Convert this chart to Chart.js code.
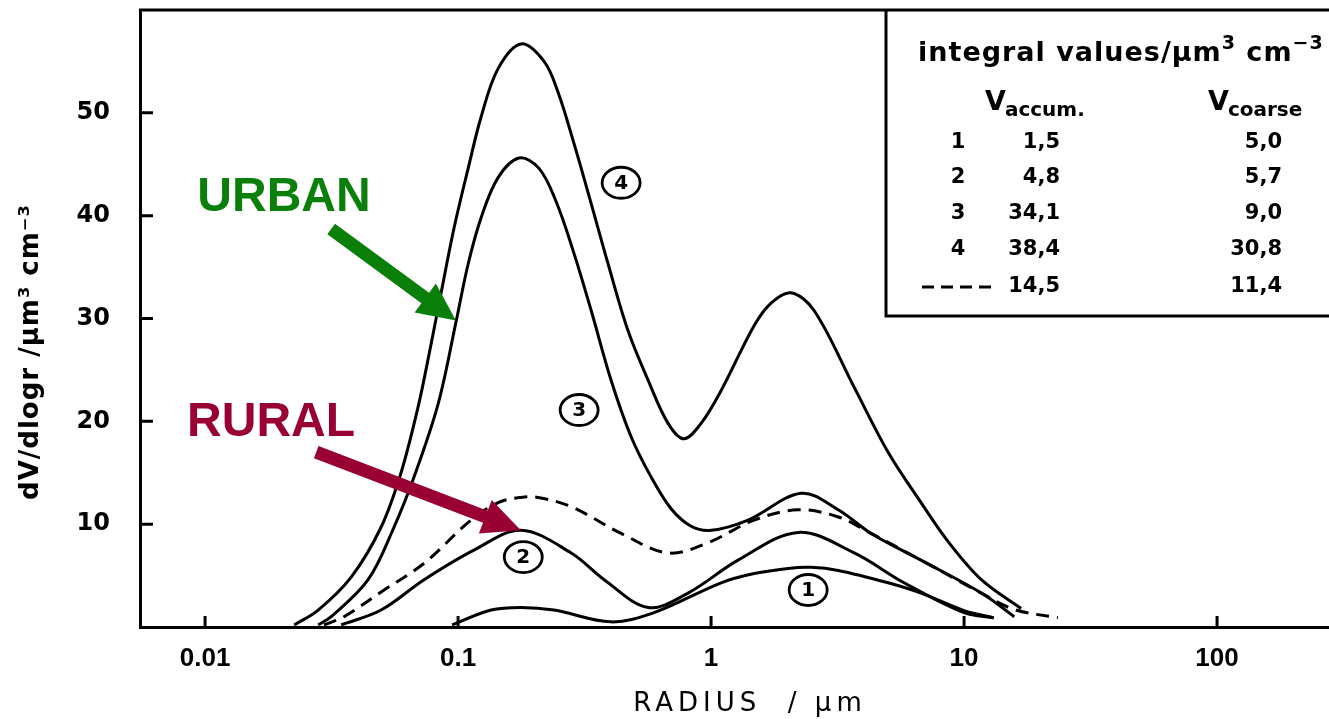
<!DOCTYPE html>
<html>
<head>
<meta charset="utf-8">
<script src="https://cdn.jsdelivr.net/npm/chart.js@4.4.0/dist/chart.umd.min.js"></script>
<style>
  html, body { margin: 0; padding: 0; background: #fff; }
  #wrap { width: 1329px; height: 719px; }
</style>
</head>
<body>
<div id="wrap"><canvas id="sizeDist"></canvas></div>
<script>
  // axis ticks
  const xTicks = [0.01, 0.1, 1, 10, 100];
  const xTickLabels = ['0.01', '0.1', '1', '10', '100'];
  const yTicks = [10, 20, 30, 40, 50];
  const xTitle = 'RADIUS  / µm';
  const yTitle = 'dV/dlogr /µm³ cm⁻³';

  // curve 1 (rural, clean)
  const r1 = [0.0947, 0.135, 0.177, 0.239, 0.402, 0.595, 1.096, 1.48, 2.015, 2.48, 3.18, 5.01, 6.76, 10, 13.1];
  const v1 = [0.2, 1.65, 1.9, 1.65, 0.5, 1.4, 4.3, 5.2, 5.7, 5.8, 5.5, 4.3, 3.3, 1.6, 0.9];
  // curve 2 (rural)
  const r2 = [0.0345, 0.0496, 0.0734, 0.116, 0.177, 0.28, 0.378, 0.564, 0.811, 1.279, 2.21, 3.68, 5.79, 10, 13.1];
  const v2 = [0.2, 1.65, 4.6, 7.5, 9.4, 7.2, 4.6, 1.9, 3.3, 6.5, 9.2, 7.2, 4.3, 1.4, 0.9];
  // curve 3 (urban)
  const r3 = [0.028, 0.0315, 0.0441, 0.0558, 0.067, 0.0834, 0.0982, 0.1096, 0.1233, 0.1439, 0.1742, 0.2089, 0.2438, 0.2849, 0.3356, 0.4025, 0.483, 0.579, 0.695, 0.834, 1.0, 1.4, 2.27, 3.18, 4.29, 6.76, 11.7, 15.8];
  const v3 = [0.2, 1.0, 4.6, 9.7, 14.6, 21.7, 29.7, 35.3, 39.8, 43.7, 45.6, 44.6, 41.4, 36.6, 30.8, 24.0, 18.5, 14.6, 11.5, 9.8, 9.4, 10.4, 13.0, 11.4, 9.1, 6.5, 3.3, 1.0];
  // curve 4 (urban, polluted)
  const r4 = [0.0225, 0.028, 0.0378, 0.0496, 0.0595, 0.0695, 0.0782, 0.0857, 0.0964, 0.1096, 0.1233, 0.1439, 0.1774, 0.2187, 0.2484, 0.2873, 0.3356, 0.3918, 0.4698, 0.5637, 0.6761, 0.7818, 0.913, 1.096, 1.479, 1.726, 2.07, 2.55, 3.68, 5.01, 6.76, 8.65, 11.7, 16.8];
  const v4 = [0.2, 1.65, 4.85, 9.7, 15.0, 21.4, 27.5, 32.5, 38.8, 44.6, 49.6, 54.3, 56.7, 55.0, 52.0, 47.0, 41.2, 35.3, 28.8, 24.0, 19.8, 18.3, 19.8, 23.0, 29.3, 31.5, 32.5, 30.8, 23.3, 17.0, 12.1, 8.3, 4.6, 1.8];
  // dashed curve
  const rd = [0.0295, 0.0354, 0.051, 0.0734, 0.1125, 0.144, 0.177, 0.207, 0.28, 0.441, 0.676, 0.973, 1.479, 2.21, 3.18, 4.29, 6.76, 11.7, 15.8, 23.5];
  const vd = [0.2, 1.0, 3.6, 6.2, 10.4, 12.1, 12.6, 12.6, 11.7, 9.1, 7.2, 8.2, 10.4, 11.4, 10.7, 9.1, 6.5, 3.3, 1.7, 0.9];

  // circled curve numbers (data coordinates)
  const tagText = ['1', '2', '3', '4'];
  const tagR = [2.42, 0.181, 0.301, 0.441];
  const tagV = [3.6, 6.8, 21.1, 43.2];

  // URBAN / RURAL call-outs (data coordinates)
  const calloutText = ['URBAN', 'RURAL'];
  const calloutColor = ['#0a800a', '#990033'];
  const calloutR = [0.0205, 0.01823];
  const calloutV = [41.9, 20.1];
  const arrowFromR = [0.0315, 0.0275];
  const arrowFromV = [38.7, 17.0];
  const arrowToR = [0.098, 0.177];
  const arrowToV = [29.8, 9.4];

  // integral values table
  const rowKeys = ['1', '2', '3', '4', null];
  const accumVals = ['1,5', '4,8', '34,1', '38,4', '14,5'];
  const coarseVals = ['5,0', '5,7', '9,0', '30,8', '11,4'];

  const pts = (rs, vs) => rs.map((r, i) => ({ x: r, y: vs[i] }));
  const curve = (rs, vs, dash) => ({
    data: pts(rs, vs),
    showLine: true,
    borderColor: '#000',
    borderWidth: 3,
    borderDash: dash || [],
    pointRadius: 0,
    tension: 0.35,
    fill: false
  });

  function arrow(ctx, x0, y0, x1, y1, color) {
    const dx = x1 - x0, dy = y1 - y0;
    const len = Math.hypot(dx, dy);
    const ux = dx / len, uy = dy / len, nx = -uy, ny = ux;
    const head = 38, hw = 18, sw = 6.5;
    const bx = x1 - ux * head, by = y1 - uy * head;
    ctx.fillStyle = color;
    ctx.beginPath();
    ctx.moveTo(x0 + nx * sw, y0 + ny * sw);
    ctx.lineTo(bx + nx * sw, by + ny * sw);
    ctx.lineTo(bx + nx * hw, by + ny * hw);
    ctx.lineTo(x1, y1);
    ctx.lineTo(bx - nx * hw, by - ny * hw);
    ctx.lineTo(bx - nx * sw, by - ny * sw);
    ctx.lineTo(x0 - nx * sw, y0 - ny * sw);
    ctx.closePath();
    ctx.fill();
  }

  const extras = {
    id: 'extras',
    afterDraw(chart) {
      const { ctx, chartArea: a, scales: { x, y } } = chart;
      ctx.save();
      ctx.strokeStyle = '#000';
      ctx.fillStyle = '#000';

      // top frame line
      ctx.lineWidth = 3;
      ctx.beginPath();
      ctx.moveTo(a.left - 1, a.top);
      ctx.lineTo(a.right, a.top);
      ctx.stroke();

      // inward tick marks
      ctx.beginPath();
      xTicks.forEach(v => {
        const px = x.getPixelForValue(v);
        ctx.moveTo(px, a.bottom);
        ctx.lineTo(px, a.bottom - 11);
      });
      yTicks.forEach(v => {
        const py = y.getPixelForValue(v);
        ctx.moveTo(a.left, py);
        ctx.lineTo(a.left + 13, py);
      });
      ctx.stroke();

      // axis titles
      ctx.textAlign = 'center';
      ctx.textBaseline = 'middle';
      ctx.letterSpacing = '5px';
      ctx.font = '26px "DejaVu Sans"';
      ctx.fillText(xTitle, 750, 704);
      ctx.save();
      ctx.translate(31, 352);
      ctx.rotate(-Math.PI / 2);
      ctx.letterSpacing = '1px';
      ctx.font = 'bold 26px "DejaVu Sans"';
      ctx.fillText(yTitle, 0, 0);
      ctx.restore();
      ctx.letterSpacing = '0px';

      // circled curve numbers
      ctx.lineWidth = 2.8;
      ctx.font = 'bold 20px "DejaVu Sans"';
      tagText.forEach((t, i) => {
        const px = x.getPixelForValue(tagR[i]);
        const py = y.getPixelForValue(tagV[i]);
        ctx.fillStyle = '#fff';
        ctx.beginPath();
        ctx.ellipse(px, py, 19, 15.5, 0, 0, Math.PI * 2);
        ctx.fill();
        ctx.stroke();
        ctx.fillStyle = '#000';
        ctx.fillText(t, px, py + 1);
      });

      // URBAN / RURAL call-outs with arrows
      ctx.font = 'bold 48px "Liberation Sans"';
      calloutText.forEach((t, i) => {
        ctx.fillStyle = calloutColor[i];
        ctx.fillText(t, x.getPixelForValue(calloutR[i]), y.getPixelForValue(calloutV[i]) + 2);
        arrow(ctx,
          x.getPixelForValue(arrowFromR[i]), y.getPixelForValue(arrowFromV[i]),
          x.getPixelForValue(arrowToR[i]), y.getPixelForValue(arrowToV[i]),
          calloutColor[i]);
      });

      // integral values table
      const boxL = 886, boxB = 316;
      ctx.fillStyle = '#fff';
      ctx.fillRect(boxL, a.top + 2, a.right - boxL, boxB - a.top - 2);
      ctx.strokeStyle = '#000';
      ctx.lineWidth = 3;
      ctx.beginPath();
      ctx.moveTo(boxL, a.top);
      ctx.lineTo(boxL, boxB);
      ctx.lineTo(a.right, boxB);
      ctx.stroke();

      ctx.fillStyle = '#000';
      ctx.textBaseline = 'alphabetic';
      ctx.textAlign = 'left';
      let tx = 918;
      const seg = (s, font, dy) => {
        ctx.font = font;
        ctx.fillText(s, tx, 61 + dy);
        tx += ctx.measureText(s).width;
      };
      ctx.letterSpacing = '1px';
      seg('integral values/µm', 'bold 27px "DejaVu Sans"', 0);
      seg('3', 'bold 19px "DejaVu Sans"', -12);
      seg(' cm', 'bold 27px "DejaVu Sans"', 0);
      seg('−3', 'bold 19px "DejaVu Sans"', -12);
      ctx.letterSpacing = '0px';

      const header = (left, sub) => {
        ctx.textAlign = 'left';
        ctx.font = 'bold 27px "DejaVu Sans"';
        ctx.fillText('V', left, 110);
        const w = ctx.measureText('V').width;
        ctx.font = 'bold 20px "DejaVu Sans"';
        ctx.fillText(sub, left + w - 1, 116);
      };
      header(985, 'accum.');
      header(1208, 'coarse');

      const rowY = [143, 178, 214, 250, 287];
      ctx.font = 'bold 21px "DejaVu Sans"';
      ctx.textBaseline = 'middle';
      rowY.forEach((ry, i) => {
        if (rowKeys[i] !== null) {
          ctx.textAlign = 'center';
          ctx.fillText(rowKeys[i], 958, ry);
        } else {
          ctx.save();
          ctx.lineWidth = 3;
          ctx.setLineDash([12, 7]);
          ctx.beginPath();
          ctx.moveTo(922, ry);
          ctx.lineTo(992, ry);
          ctx.stroke();
          ctx.restore();
        }
        ctx.textAlign = 'right';
        ctx.fillText(accumVals[i], 1060, ry);
        ctx.fillText(coarseVals[i], 1282, ry);
      });

      ctx.restore();
    }
  };

  new Chart(document.getElementById('sizeDist'), {
    type: 'scatter',
    data: {
      datasets: [
        curve(r1, v1),
        curve(r2, v2),
        curve(r3, v3),
        curve(r4, v4),
        curve(rd, vd, [13, 8])
      ]
    },
    options: {
      responsive: true,
      maintainAspectRatio: false,
      animation: false,
      devicePixelRatio: 1,
      layout: { padding: { top: 10, right: 0, bottom: 0, left: 0 } },
      plugins: {
        legend: { display: false },
        tooltip: { enabled: false }
      },
      scales: {
        x: {
          type: 'logarithmic',
          min: 0.00553,
          max: 277,
          grid: { display: false },
          border: { display: true, color: '#000', width: 3 },
          afterBuildTicks: s => { s.ticks = xTicks.map(v => ({ value: v })); },
          afterFit: s => { s.height = 92; s.paddingLeft = 0; s.paddingRight = 0; },
          ticks: {
            color: '#000',
            padding: 8,
            maxRotation: 0,
            autoSkip: false,
            font: { family: '"Liberation Sans Narrow", "Liberation Sans"', size: 26, weight: 'bold' },
            callback: (v, i) => xTickLabels[i]
          }
        },
        y: {
          min: 0,
          max: 60,
          grid: { display: false },
          border: { display: true, color: '#000', width: 3 },
          afterBuildTicks: s => { s.ticks = yTicks.map(v => ({ value: v })); },
          afterFit: s => { s.width = 140; s.paddingTop = 0; s.paddingBottom = 0; },
          ticks: {
            color: '#000',
            padding: 22,
            font: { family: '"DejaVu Sans"', size: 24, weight: 'bold' }
          }
        }
      }
    },
    plugins: [extras]
  });
</script>
</body>
</html>
